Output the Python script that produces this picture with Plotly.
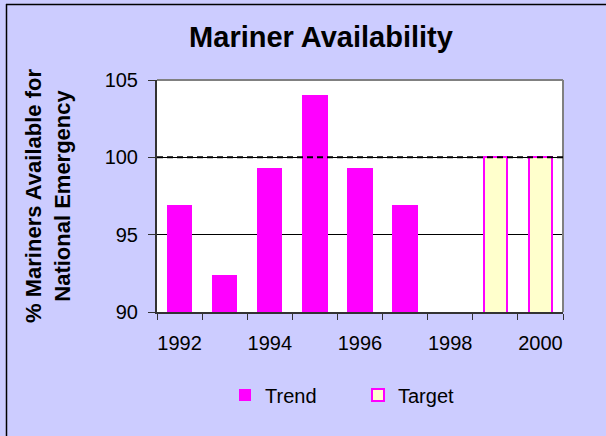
import plotly.graph_objects as go

trend_years = [1992, 1993, 1994, 1995, 1996, 1997]
trend_values = [96.9, 92.4, 99.3, 104.0, 99.3, 96.9]
target_years = [1999, 2000]
target_values = [100, 100]
target_line = 100
y_ticks = [90, 95, 100, 105]
x_tick_labels = [1992, 1994, 1996, 1998, 2000]

W, H = 606, 436
L, R, T, B = 157, 43, 80, 124
PW, PH = W - L - R, H - T - B
FONT = "Liberation Sans, Arial, sans-serif"

fig = go.Figure()
fig.add_trace(go.Bar(
    x=trend_years, y=trend_values, name="Trend", width=0.56,
    marker=dict(color="#FF00FF", line=dict(color="#FF00FF", width=0)),
))
fig.add_trace(go.Bar(
    x=target_years, y=target_values, name="Target", width=0.5,
    marker=dict(color="#FFFFCC", line=dict(color="#FF00FF", width=2)),
))

fig.update_layout(
    width=W, height=H,
    margin=dict(l=L, r=R, t=T, b=B),
    paper_bgcolor="#CCCCFF",
    plot_bgcolor="#FFFFFF",
    barmode="overlay",
    font=dict(family=FONT, color="#000000", size=20),
    title=dict(text="<b>Mariner Availability</b>", font=dict(size=29, family=FONT),
               x=321 / W, xref="container", xanchor="center",
               y=1 - 37 / H, yref="container", yanchor="middle"),
    showlegend=True,
    legend=dict(orientation="h", x=(245 - 20 - L) / PW, xanchor="left",
                y=(312 - 395) / PH, yanchor="middle",
                font=dict(size=20, family=FONT), bgcolor="rgba(0,0,0,0)",
                itemwidth=30, traceorder="normal",
                entrywidth=88, entrywidthmode="pixels"),
    bargap=0,
)

fig.update_xaxes(
    range=[1991.5, 2000.5],
    tickvals=x_tick_labels, ticktext=[str(v) for v in x_tick_labels],
    ticks="", showgrid=False, zeroline=False,
    showline=True, linecolor="#333333", linewidth=2,
    tickfont=dict(size=20, family=FONT),
    ticklabelstandoff=12,
    minor=dict(ticks="outside", tick0=1991.5, dtick=1, ticklen=6,
               tickcolor="#333333", tickwidth=1, showgrid=False),
)
fig.update_yaxes(
    range=[90, 105], tickvals=y_ticks,
    ticks="outside", ticklen=7, tickcolor="#333333", tickwidth=1,
    showgrid=True, gridcolor="#000000", gridwidth=1, zeroline=False,
    showline=True, linecolor="#333333", linewidth=2,
    tickfont=dict(size=20, family=FONT),
    ticklabelstandoff=6,
    title=dict(text="<b>% Mariners Available for<br>National Emergency</b>",
               font=dict(size=22, family=FONT), standoff=28),
)

# plot-area border (top/right gray)
fig.add_shape(type="line", xref="paper", yref="paper", x0=0, x1=1, y0=1, y1=1,
              line=dict(color="#808080", width=2), layer="above")
fig.add_shape(type="line", xref="paper", yref="paper", x0=1, x1=1, y0=0, y1=1,
              line=dict(color="#808080", width=2), layer="above")
# target dashed line
fig.add_shape(type="line", xref="paper", yref="y", x0=0, x1=1,
              y0=target_line, y1=target_line,
              line=dict(color="#000000", width=2, dash="6px,4px"), layer="above")
# outer chart border (top & left)
fig.add_shape(type="line", xref="paper", yref="paper",
              x0=(6 - L) / PW, x1=(W - L) / PW,
              y0=(PH + T - 4.5) / PH, y1=(PH + T - 4.5) / PH,
              line=dict(color="#000000", width=1.5), layer="above")
fig.add_shape(type="line", xref="paper", yref="paper",
              x0=(6.5 - L) / PW, x1=(6.5 - L) / PW,
              y0=(PH + T - 4) / PH, y1=-B / PH,
              line=dict(color="#000000", width=1.5), layer="above")

fig.write_html("out.html",
               config={"displayModeBar": False},
               post_script="document.body.style.margin='0';document.body.style.overflow='hidden';")
